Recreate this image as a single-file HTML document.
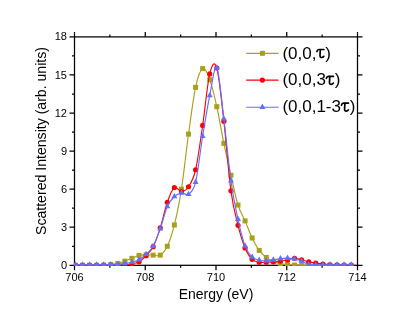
<!DOCTYPE html>
<html><head><meta charset="utf-8"><title>chart</title>
<style>
html,body{margin:0;padding:0;background:#fff}
body{width:415px;height:318px;position:relative;overflow:hidden;font-family:"Liberation Sans",sans-serif;color:#000}
.xt{position:absolute;top:270.5px;width:40px;text-align:center;font-size:11px;line-height:13px}
.yt{position:absolute;left:27px;width:40px;text-align:right;font-size:11px;line-height:13px}
.xl{position:absolute;left:116px;width:200px;text-align:center;top:286px;font-size:14px;line-height:16px}
.yl{position:absolute;left:40.5px;top:141.1px;width:0;height:0}
.yl span{position:absolute;white-space:nowrap;font-size:14.1px;line-height:16px;transform:translate(-50%,-50%) rotate(-90deg);transform-origin:50% 50%;display:block}
.lg{position:absolute;left:283.5px;font-size:16.3px;line-height:20px;white-space:nowrap}
</style></head><body>
<svg width="415" height="318" viewBox="0 0 415 318" style="position:absolute;left:0;top:0">
<defs><clipPath id="c"><rect x="73.9" y="36.3" width="284.2" height="229.7"/></clipPath></defs>
<g stroke="#000" stroke-width="1.25" fill="none" stroke-linecap="butt">
<rect x="74.50" y="36.90" width="283.00" height="228.40"/>
<path d="M74.50 265.30 v5.00 M74.50 36.90 v-5.00"/>
<path d="M109.88 265.30 v2.50 M109.88 36.90 v-2.50"/>
<path d="M145.25 265.30 v5.00 M145.25 36.90 v-5.00"/>
<path d="M180.62 265.30 v2.50 M180.62 36.90 v-2.50"/>
<path d="M216.00 265.30 v5.00 M216.00 36.90 v-5.00"/>
<path d="M251.38 265.30 v2.50 M251.38 36.90 v-2.50"/>
<path d="M286.75 265.30 v5.00 M286.75 36.90 v-5.00"/>
<path d="M322.12 265.30 v2.50 M322.12 36.90 v-2.50"/>
<path d="M357.50 265.30 v5.00 M357.50 36.90 v-5.00"/>
<path d="M74.50 265.30 h-5.00 M357.50 265.30 h5.00"/>
<path d="M74.50 246.27 h-2.50 M357.50 246.27 h2.50"/>
<path d="M74.50 227.23 h-5.00 M357.50 227.23 h5.00"/>
<path d="M74.50 208.20 h-2.50 M357.50 208.20 h2.50"/>
<path d="M74.50 189.17 h-5.00 M357.50 189.17 h5.00"/>
<path d="M74.50 170.13 h-2.50 M357.50 170.13 h2.50"/>
<path d="M74.50 151.10 h-5.00 M357.50 151.10 h5.00"/>
<path d="M74.50 132.07 h-2.50 M357.50 132.07 h2.50"/>
<path d="M74.50 113.03 h-5.00 M357.50 113.03 h5.00"/>
<path d="M74.50 94.00 h-2.50 M357.50 94.00 h2.50"/>
<path d="M74.50 74.97 h-5.00 M357.50 74.97 h5.00"/>
<path d="M74.50 55.93 h-2.50 M357.50 55.93 h2.50"/>
<path d="M74.50 36.90 h-5.00 M357.50 36.90 h5.00"/>
</g>
<g clip-path="url(#c)">
<path d="M75.40 265.30 C76.58 265.30 80.11 265.30 82.47 265.30 C84.83 265.30 87.18 265.30 89.54 265.30 C91.90 265.30 94.25 265.34 96.61 265.30 C98.97 265.26 101.32 265.17 103.68 265.05 C106.04 264.92 108.39 264.81 110.75 264.54 C113.11 264.26 115.46 263.97 117.82 263.40 C120.18 262.83 122.53 261.96 124.89 261.11 C127.25 260.27 129.60 259.27 131.96 258.32 C134.32 257.37 136.67 255.97 139.03 255.40 C141.39 254.83 143.74 254.94 146.10 254.90 C148.46 254.85 150.81 255.11 153.17 255.15 C155.53 255.19 157.88 256.63 160.24 255.15 C162.60 253.67 164.95 251.30 167.31 246.27 C169.67 241.23 172.02 234.47 174.38 224.95 C176.74 215.43 179.09 204.31 181.45 189.17 C183.81 174.02 186.16 151.06 188.52 134.10 C190.88 117.14 193.23 98.31 195.59 87.40 C197.95 76.49 200.30 69.91 202.66 68.62 C205.02 67.33 207.37 73.32 209.73 79.66 C212.09 86.01 214.44 96.07 216.80 106.69 C219.16 117.31 221.51 131.94 223.87 143.36 C226.23 154.78 228.58 164.93 230.94 175.21 C233.30 185.49 235.65 197.41 238.01 205.03 C240.37 212.64 242.72 215.39 245.08 220.89 C247.44 226.39 249.79 233.09 252.15 238.02 C254.51 242.95 256.86 247.22 259.22 250.45 C261.58 253.69 263.93 255.59 266.29 257.43 C268.65 259.27 271.00 260.46 273.36 261.49 C275.72 262.53 278.07 263.12 280.43 263.65 C282.79 264.18 285.14 264.43 287.50 264.67 C289.86 264.90 292.21 264.94 294.57 265.05 C296.93 265.15 299.28 265.26 301.64 265.30 C304.00 265.34 306.35 265.30 308.71 265.30 C311.07 265.30 313.42 265.30 315.78 265.30 C318.14 265.30 320.49 265.30 322.85 265.30 C325.21 265.30 327.56 265.30 329.92 265.30 C332.28 265.30 334.63 265.30 336.99 265.30 C339.35 265.30 341.70 265.30 344.06 265.30 C346.42 265.30 349.95 265.30 351.13 265.30" fill="none" stroke="#a8a018" stroke-width="1.15" stroke-linejoin="round"/>
<rect x="72.90" y="262.80" width="5" height="5" fill="#a8a018"/>
<rect x="79.97" y="262.80" width="5" height="5" fill="#a8a018"/>
<rect x="87.04" y="262.80" width="5" height="5" fill="#a8a018"/>
<rect x="94.11" y="262.80" width="5" height="5" fill="#a8a018"/>
<rect x="101.18" y="262.55" width="5" height="5" fill="#a8a018"/>
<rect x="108.25" y="262.04" width="5" height="5" fill="#a8a018"/>
<rect x="115.32" y="260.90" width="5" height="5" fill="#a8a018"/>
<rect x="122.39" y="258.61" width="5" height="5" fill="#a8a018"/>
<rect x="129.46" y="255.82" width="5" height="5" fill="#a8a018"/>
<rect x="136.53" y="252.90" width="5" height="5" fill="#a8a018"/>
<rect x="143.60" y="252.40" width="5" height="5" fill="#a8a018"/>
<rect x="150.67" y="252.65" width="5" height="5" fill="#a8a018"/>
<rect x="157.74" y="252.65" width="5" height="5" fill="#a8a018"/>
<rect x="164.81" y="243.77" width="5" height="5" fill="#a8a018"/>
<rect x="171.88" y="222.45" width="5" height="5" fill="#a8a018"/>
<rect x="178.95" y="186.67" width="5" height="5" fill="#a8a018"/>
<rect x="186.02" y="131.60" width="5" height="5" fill="#a8a018"/>
<rect x="193.09" y="84.90" width="5" height="5" fill="#a8a018"/>
<rect x="200.16" y="66.12" width="5" height="5" fill="#a8a018"/>
<rect x="207.23" y="77.16" width="5" height="5" fill="#a8a018"/>
<rect x="214.30" y="104.19" width="5" height="5" fill="#a8a018"/>
<rect x="221.37" y="140.86" width="5" height="5" fill="#a8a018"/>
<rect x="228.44" y="172.71" width="5" height="5" fill="#a8a018"/>
<rect x="235.51" y="202.53" width="5" height="5" fill="#a8a018"/>
<rect x="242.58" y="218.39" width="5" height="5" fill="#a8a018"/>
<rect x="249.65" y="235.52" width="5" height="5" fill="#a8a018"/>
<rect x="256.72" y="247.95" width="5" height="5" fill="#a8a018"/>
<rect x="263.79" y="254.93" width="5" height="5" fill="#a8a018"/>
<rect x="270.86" y="258.99" width="5" height="5" fill="#a8a018"/>
<rect x="277.93" y="261.15" width="5" height="5" fill="#a8a018"/>
<rect x="285.00" y="262.17" width="5" height="5" fill="#a8a018"/>
<rect x="292.07" y="262.55" width="5" height="5" fill="#a8a018"/>
<rect x="299.14" y="262.80" width="5" height="5" fill="#a8a018"/>
<rect x="306.21" y="262.80" width="5" height="5" fill="#a8a018"/>
<rect x="313.28" y="262.80" width="5" height="5" fill="#a8a018"/>
<rect x="320.35" y="262.80" width="5" height="5" fill="#a8a018"/>
<rect x="327.42" y="262.80" width="5" height="5" fill="#a8a018"/>
<rect x="334.49" y="262.80" width="5" height="5" fill="#a8a018"/>
<rect x="341.56" y="262.80" width="5" height="5" fill="#a8a018"/>
<rect x="348.63" y="262.80" width="5" height="5" fill="#a8a018"/>
<path d="M75.40 265.30 C76.58 265.30 80.11 265.30 82.47 265.30 C84.83 265.30 87.18 265.30 89.54 265.30 C91.90 265.30 94.25 265.30 96.61 265.30 C98.97 265.30 101.32 265.30 103.68 265.30 C106.04 265.30 108.39 265.34 110.75 265.30 C113.11 265.26 115.46 265.15 117.82 265.05 C120.18 264.94 122.53 264.88 124.89 264.67 C127.25 264.45 129.60 264.24 131.96 263.78 C134.32 263.31 136.67 263.23 139.03 261.87 C141.39 260.52 143.74 258.19 146.10 255.66 C148.46 253.12 150.81 251.28 153.17 246.65 C155.53 242.02 157.88 235.27 160.24 227.87 C162.60 220.47 164.95 208.96 167.31 202.24 C169.67 195.51 172.02 189.27 174.38 187.52 C176.74 185.76 179.09 191.83 181.45 191.70 C183.81 191.58 186.16 190.41 188.52 186.76 C190.88 183.10 193.23 179.97 195.59 169.75 C197.95 159.54 200.30 141.44 202.66 125.47 C205.02 109.50 207.37 83.53 209.73 73.95 C212.09 64.37 214.44 60.12 216.80 67.99 C219.16 75.85 221.51 100.68 223.87 121.15 C226.23 141.63 228.58 173.45 230.94 190.82 C233.30 208.18 235.65 215.81 238.01 225.33 C240.37 234.85 242.72 242.25 245.08 247.92 C247.44 253.58 249.79 256.95 252.15 259.34 C254.51 261.73 256.86 261.77 259.22 262.25 C261.58 262.74 263.93 262.32 266.29 262.25 C268.65 262.19 271.00 262.06 273.36 261.87 C275.72 261.68 278.07 261.43 280.43 261.11 C282.79 260.80 285.14 260.44 287.50 259.97 C289.86 259.51 292.21 258.32 294.57 258.32 C296.93 258.32 299.28 259.38 301.64 259.97 C304.00 260.56 306.35 261.35 308.71 261.87 C311.07 262.40 313.42 262.76 315.78 263.14 C318.14 263.52 320.49 263.88 322.85 264.16 C325.21 264.43 327.56 264.64 329.92 264.79 C332.28 264.94 334.63 264.96 336.99 265.05 C339.35 265.13 341.70 265.26 344.06 265.30 C346.42 265.34 349.95 265.30 351.13 265.30" fill="none" stroke="#ff0000" stroke-width="1.15" stroke-linejoin="round"/>
<circle cx="75.40" cy="265.30" r="2.6" fill="#ff0000"/>
<circle cx="82.47" cy="265.30" r="2.6" fill="#ff0000"/>
<circle cx="89.54" cy="265.30" r="2.6" fill="#ff0000"/>
<circle cx="96.61" cy="265.30" r="2.6" fill="#ff0000"/>
<circle cx="103.68" cy="265.30" r="2.6" fill="#ff0000"/>
<circle cx="110.75" cy="265.30" r="2.6" fill="#ff0000"/>
<circle cx="117.82" cy="265.05" r="2.6" fill="#ff0000"/>
<circle cx="124.89" cy="264.67" r="2.6" fill="#ff0000"/>
<circle cx="131.96" cy="263.78" r="2.6" fill="#ff0000"/>
<circle cx="139.03" cy="261.87" r="2.6" fill="#ff0000"/>
<circle cx="146.10" cy="255.66" r="2.6" fill="#ff0000"/>
<circle cx="153.17" cy="246.65" r="2.6" fill="#ff0000"/>
<circle cx="160.24" cy="227.87" r="2.6" fill="#ff0000"/>
<circle cx="167.31" cy="202.24" r="2.6" fill="#ff0000"/>
<circle cx="174.38" cy="187.52" r="2.6" fill="#ff0000"/>
<circle cx="181.45" cy="191.70" r="2.6" fill="#ff0000"/>
<circle cx="188.52" cy="186.76" r="2.6" fill="#ff0000"/>
<circle cx="195.59" cy="169.75" r="2.6" fill="#ff0000"/>
<circle cx="202.66" cy="125.47" r="2.6" fill="#ff0000"/>
<circle cx="209.73" cy="73.95" r="2.6" fill="#ff0000"/>
<circle cx="216.80" cy="67.99" r="2.6" fill="#ff0000"/>
<circle cx="223.87" cy="121.15" r="2.6" fill="#ff0000"/>
<circle cx="230.94" cy="190.82" r="2.6" fill="#ff0000"/>
<circle cx="238.01" cy="225.33" r="2.6" fill="#ff0000"/>
<circle cx="245.08" cy="247.92" r="2.6" fill="#ff0000"/>
<circle cx="252.15" cy="259.34" r="2.6" fill="#ff0000"/>
<circle cx="259.22" cy="262.25" r="2.6" fill="#ff0000"/>
<circle cx="266.29" cy="262.25" r="2.6" fill="#ff0000"/>
<circle cx="273.36" cy="261.87" r="2.6" fill="#ff0000"/>
<circle cx="280.43" cy="261.11" r="2.6" fill="#ff0000"/>
<circle cx="287.50" cy="259.97" r="2.6" fill="#ff0000"/>
<circle cx="294.57" cy="258.32" r="2.6" fill="#ff0000"/>
<circle cx="301.64" cy="259.97" r="2.6" fill="#ff0000"/>
<circle cx="308.71" cy="261.87" r="2.6" fill="#ff0000"/>
<circle cx="315.78" cy="263.14" r="2.6" fill="#ff0000"/>
<circle cx="322.85" cy="264.16" r="2.6" fill="#ff0000"/>
<circle cx="329.92" cy="264.79" r="2.6" fill="#ff0000"/>
<circle cx="336.99" cy="265.05" r="2.6" fill="#ff0000"/>
<circle cx="344.06" cy="265.30" r="2.6" fill="#ff0000"/>
<circle cx="351.13" cy="265.30" r="2.6" fill="#ff0000"/>
<path d="M75.40 264.79 C76.58 264.79 80.11 264.79 82.47 264.79 C84.83 264.79 87.18 264.79 89.54 264.79 C91.90 264.79 94.25 264.79 96.61 264.79 C98.97 264.79 101.32 264.81 103.68 264.79 C106.04 264.77 108.39 264.75 110.75 264.67 C113.11 264.58 115.46 264.52 117.82 264.28 C120.18 264.05 122.53 263.61 124.89 263.27 C127.25 262.93 129.60 262.85 131.96 262.25 C134.32 261.66 136.67 261.05 139.03 259.72 C141.39 258.38 143.74 256.50 146.10 254.26 C148.46 252.02 150.81 250.52 153.17 246.27 C155.53 242.02 157.88 235.38 160.24 228.76 C162.60 222.14 164.95 211.92 167.31 206.55 C169.67 201.18 172.02 198.79 174.38 196.53 C176.74 194.26 179.09 193.35 181.45 192.97 C183.81 192.59 186.16 196.04 188.52 194.24 C190.88 192.44 193.23 191.85 195.59 182.19 C197.95 172.52 200.30 150.70 202.66 136.25 C205.02 121.81 207.37 106.94 209.73 95.52 C212.09 84.10 214.44 63.84 216.80 67.73 C219.16 71.63 221.51 100.03 223.87 118.87 C226.23 137.71 228.58 164.04 230.94 180.79 C233.30 197.54 235.65 208.50 238.01 219.37 C240.37 230.24 242.72 239.73 245.08 246.01 C247.44 252.29 249.79 254.68 252.15 257.05 C254.51 259.42 256.86 259.61 259.22 260.22 C261.58 260.84 263.93 260.77 266.29 260.73 C268.65 260.69 271.00 260.31 273.36 259.97 C275.72 259.63 278.07 259.00 280.43 258.70 C282.79 258.41 285.14 258.15 287.50 258.19 C289.86 258.24 292.21 258.47 294.57 258.96 C296.93 259.44 299.28 260.18 301.64 261.11 C304.00 262.04 306.35 263.93 308.71 264.54 C311.07 265.15 313.42 264.75 315.78 264.79 C318.14 264.83 320.49 264.79 322.85 264.79 C325.21 264.79 327.56 264.79 329.92 264.79 C332.28 264.79 334.63 264.79 336.99 264.79 C339.35 264.79 341.70 264.79 344.06 264.79 C346.42 264.79 349.95 264.79 351.13 264.79" fill="none" stroke="#5f70ff" stroke-width="1.15" stroke-linejoin="round"/>
<path d="M75.40 261.19 L78.40 266.49 L72.40 266.49 Z" fill="#5f70ff"/>
<path d="M82.47 261.19 L85.47 266.49 L79.47 266.49 Z" fill="#5f70ff"/>
<path d="M89.54 261.19 L92.54 266.49 L86.54 266.49 Z" fill="#5f70ff"/>
<path d="M96.61 261.19 L99.61 266.49 L93.61 266.49 Z" fill="#5f70ff"/>
<path d="M103.68 261.19 L106.68 266.49 L100.68 266.49 Z" fill="#5f70ff"/>
<path d="M110.75 261.07 L113.75 266.37 L107.75 266.37 Z" fill="#5f70ff"/>
<path d="M117.82 260.68 L120.82 265.98 L114.82 265.98 Z" fill="#5f70ff"/>
<path d="M124.89 259.67 L127.89 264.97 L121.89 264.97 Z" fill="#5f70ff"/>
<path d="M131.96 258.65 L134.96 263.95 L128.96 263.95 Z" fill="#5f70ff"/>
<path d="M139.03 256.12 L142.03 261.42 L136.03 261.42 Z" fill="#5f70ff"/>
<path d="M146.10 250.66 L149.10 255.96 L143.10 255.96 Z" fill="#5f70ff"/>
<path d="M153.17 242.67 L156.17 247.97 L150.17 247.97 Z" fill="#5f70ff"/>
<path d="M160.24 225.16 L163.24 230.46 L157.24 230.46 Z" fill="#5f70ff"/>
<path d="M167.31 202.95 L170.31 208.25 L164.31 208.25 Z" fill="#5f70ff"/>
<path d="M174.38 192.93 L177.38 198.23 L171.38 198.23 Z" fill="#5f70ff"/>
<path d="M181.45 189.37 L184.45 194.67 L178.45 194.67 Z" fill="#5f70ff"/>
<path d="M188.52 190.64 L191.52 195.94 L185.52 195.94 Z" fill="#5f70ff"/>
<path d="M195.59 178.59 L198.59 183.89 L192.59 183.89 Z" fill="#5f70ff"/>
<path d="M202.66 132.65 L205.66 137.95 L199.66 137.95 Z" fill="#5f70ff"/>
<path d="M209.73 91.92 L212.73 97.22 L206.73 97.22 Z" fill="#5f70ff"/>
<path d="M216.80 64.13 L219.80 69.43 L213.80 69.43 Z" fill="#5f70ff"/>
<path d="M223.87 115.27 L226.87 120.57 L220.87 120.57 Z" fill="#5f70ff"/>
<path d="M230.94 177.19 L233.94 182.49 L227.94 182.49 Z" fill="#5f70ff"/>
<path d="M238.01 215.77 L241.01 221.07 L235.01 221.07 Z" fill="#5f70ff"/>
<path d="M245.08 242.41 L248.08 247.71 L242.08 247.71 Z" fill="#5f70ff"/>
<path d="M252.15 253.45 L255.15 258.75 L249.15 258.75 Z" fill="#5f70ff"/>
<path d="M259.22 256.62 L262.22 261.92 L256.22 261.92 Z" fill="#5f70ff"/>
<path d="M266.29 257.13 L269.29 262.43 L263.29 262.43 Z" fill="#5f70ff"/>
<path d="M273.36 256.37 L276.36 261.67 L270.36 261.67 Z" fill="#5f70ff"/>
<path d="M280.43 255.10 L283.43 260.40 L277.43 260.40 Z" fill="#5f70ff"/>
<path d="M287.50 254.59 L290.50 259.89 L284.50 259.89 Z" fill="#5f70ff"/>
<path d="M294.57 255.36 L297.57 260.66 L291.57 260.66 Z" fill="#5f70ff"/>
<path d="M301.64 257.51 L304.64 262.81 L298.64 262.81 Z" fill="#5f70ff"/>
<path d="M308.71 260.94 L311.71 266.24 L305.71 266.24 Z" fill="#5f70ff"/>
<path d="M315.78 261.19 L318.78 266.49 L312.78 266.49 Z" fill="#5f70ff"/>
<path d="M322.85 261.19 L325.85 266.49 L319.85 266.49 Z" fill="#5f70ff"/>
<path d="M329.92 261.19 L332.92 266.49 L326.92 266.49 Z" fill="#5f70ff"/>
<path d="M336.99 261.19 L339.99 266.49 L333.99 266.49 Z" fill="#5f70ff"/>
<path d="M344.06 261.19 L347.06 266.49 L341.06 266.49 Z" fill="#5f70ff"/>
<path d="M351.13 261.19 L354.13 266.49 L348.13 266.49 Z" fill="#5f70ff"/>
</g>
<path d="M246.2 53.30 H278.6" stroke="#a8a018" stroke-width="1.15"/>
<rect x="259.90" y="50.80" width="5" height="5" fill="#a8a018"/>
<path d="M246.2 80.10 H278.6" stroke="#ff0000" stroke-width="1.15"/>
<circle cx="262.40" cy="80.10" r="2.6" fill="#ff0000"/>
<path d="M246.2 107.20 H278.6" stroke="#5f70ff" stroke-width="1.15"/>
<path d="M262.40 103.60 L265.40 108.90 L259.40 108.90 Z" fill="#5f70ff"/>
</svg>
<svg width="415" height="318" viewBox="0 0 415 318" style="position:absolute;left:0;top:0;filter:grayscale(1)">
<text x="282.40" y="58.50" font-size="17.0" font-family="Liberation Sans, sans-serif">(0,0,</text>
<g transform="translate(-0.38 0.00)" fill="none" stroke="#000" stroke-width="1.7" stroke-linecap="round" stroke-linejoin="round"><path d="M317.3 51.5 Q317.7 49.6 319.4 49.5 L324.3 49.5"/><path d="M320.7 49.8 L320.4 55.4 Q320.3 57.5 322.0 57.5 Q323.5 57.5 324.2 56.3"/></g>
<text x="325.22" y="58.50" font-size="17.0" font-family="Liberation Sans, sans-serif">)</text>
<text x="282.40" y="85.30" font-size="17.0" font-family="Liberation Sans, sans-serif">(0,0,3</text>
<g transform="translate(9.07 26.80)" fill="none" stroke="#000" stroke-width="1.7" stroke-linecap="round" stroke-linejoin="round"><path d="M317.3 51.5 Q317.7 49.6 319.4 49.5 L324.3 49.5"/><path d="M320.7 49.8 L320.4 55.4 Q320.3 57.5 322.0 57.5 Q323.5 57.5 324.2 56.3"/></g>
<text x="334.67" y="85.30" font-size="17.0" font-family="Liberation Sans, sans-serif">)</text>
<text x="282.40" y="112.10" font-size="17.0" font-family="Liberation Sans, sans-serif">(0,0,1-3</text>
<g transform="translate(24.18 53.60)" fill="none" stroke="#000" stroke-width="1.7" stroke-linecap="round" stroke-linejoin="round"><path d="M317.3 51.5 Q317.7 49.6 319.4 49.5 L324.3 49.5"/><path d="M320.7 49.8 L320.4 55.4 Q320.3 57.5 322.0 57.5 Q323.5 57.5 324.2 56.3"/></g>
<text x="349.78" y="112.10" font-size="17.0" font-family="Liberation Sans, sans-serif">)</text>
</svg>
<div style="position:absolute;left:0;top:0;width:415px;height:318px;filter:grayscale(1)"><div class="xt" style="left:54.5px">706</div>
<div class="xt" style="left:125.2px">708</div>
<div class="xt" style="left:196.0px">710</div>
<div class="xt" style="left:266.8px">712</div>
<div class="xt" style="left:337.5px">714</div>
<div class="yt" style="top:258.8px">0</div>
<div class="yt" style="top:220.7px">3</div>
<div class="yt" style="top:182.7px">6</div>
<div class="yt" style="top:144.6px">9</div>
<div class="yt" style="top:106.5px">12</div>
<div class="yt" style="top:68.5px">15</div>
<div class="yt" style="top:30.4px">18</div>
<div class="xl">Energy (eV)</div>
<div class="yl"><span>Scattered Intensity (arb. units)</span></div>
</div>
</body></html>
